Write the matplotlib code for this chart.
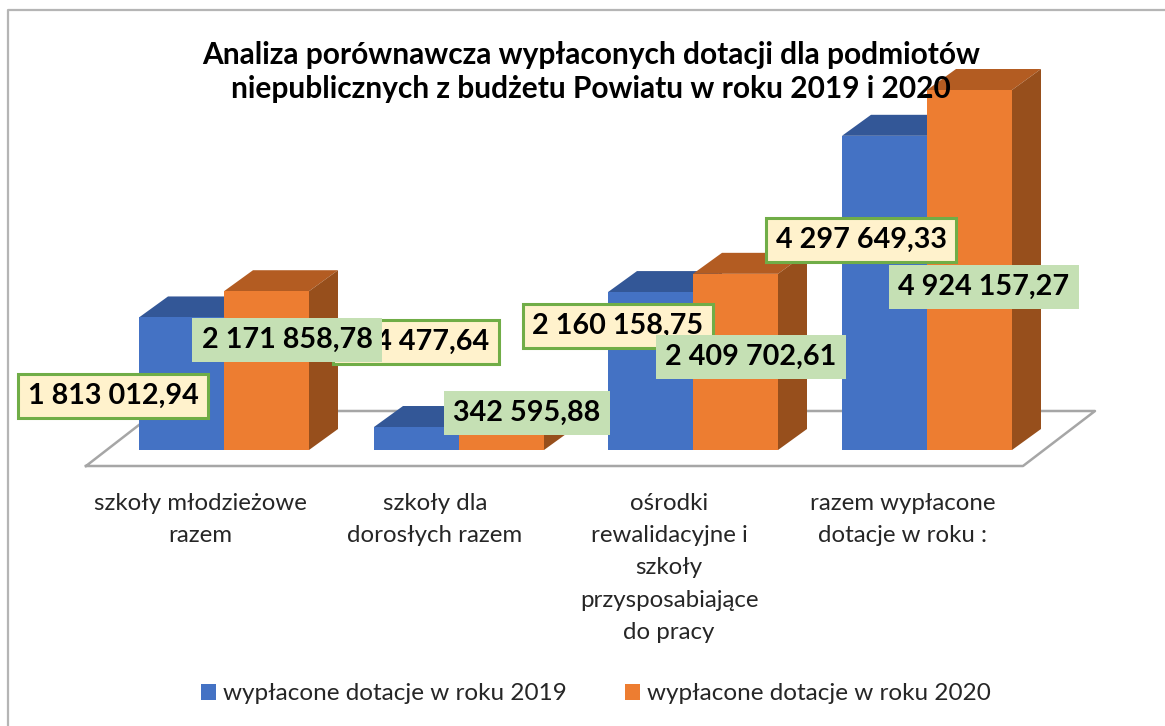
import matplotlib
matplotlib.use('Agg')
import matplotlib.pyplot as plt
from matplotlib.lines import Line2D
from matplotlib.patches import Polygon

plt.rcParams['font.family'] = ['Lato', 'DejaVu Sans']

# ---- Data ----
categories = ['szkoły młodzieżowe\nrazem',
              'szkoły dla\ndorosłych razem',
              'ośrodki\nrewalidacyjne i\nszkoły\nprzysposabiające\ndo pracy',
              'razem wypłacone\ndotacje w roku :']
values_2019 = [1813012.94, 314477.64, 2160158.75, 4297649.33]
values_2020 = [2171858.78, 342595.88, 2409702.61, 4924157.27]
labels_2019 = ['1 813 012,94', '314 477,64', '2 160 158,75', '4 297 649,33']
labels_2020 = ['2 171 858,78', '342 595,88', '2 409 702,61', '4 924 157,27']
series_names = ['wypłacone dotacje w roku 2019', 'wypłacone dotacje w roku 2020']
title = 'Analiza porównawcza wypłaconych dotacji dla podmiotów\nniepublicznych z budżetu Powiatu w roku 2019 i 2020'

# ---- Layout, in pixels of the picture ----
W, H = 1165, 726
base_y = 450
px_per_unit = 360 / 4924157.27
group_x = [224, 459, 693, 927]
bar_w = 85
depth_x, depth_y = 29, 21
label_xy_2019 = [(113, 396), (416, 342), (618, 326), (861, 240)]
label_xy_2020 = [(287, 340), (527, 413), (751, 357), (984, 287)]

blue, blue_top, blue_side = '#4472c4', '#335797', '#2c4c84'
orange, orange_top, orange_side = '#ed7d31', '#b35c22', '#974f1c'


def fx(x):
    return x / W


def fy(y):
    return 1 - y / H


fig = plt.figure(figsize=(W / 100, H / 100), dpi=100)
ax = fig.add_axes([0, fy(base_y), 1, base_y / H])
ax.set_xlim(0, W)
ax.set_ylim(0, base_y / px_per_unit)
ax.patch.set_alpha(0)
for s in ax.spines.values():
    s.set_visible(False)
ax.set_yticks([])

dy = depth_y / px_per_unit

# floor of the 3d chart
floor_x = [86, 1023, 1095, 157, 86]
floor_y = [-16 / px_per_unit, -16 / px_per_unit, 39 / px_per_unit, 39 / px_per_unit, -16 / px_per_unit]
ax.plot(floor_x, floor_y, color='#a6a6a6', lw=1.8, clip_on=False, zorder=1)


def draw_3d(x_left, value, top, side, z):
    # top and side faces sit behind the front bar
    top_pts = [(x_left, value), (x_left + bar_w, value),
               (x_left + bar_w + depth_x, value + dy), (x_left + depth_x, value + dy)]
    side_pts = [(x_left + bar_w, 0), (x_left + bar_w + depth_x, dy),
                (x_left + bar_w + depth_x, value + dy), (x_left + bar_w, value)]
    ax.add_patch(Polygon(top_pts, closed=True, fc=top, ec='none', zorder=z, clip_on=False))
    ax.add_patch(Polygon(side_pts, closed=True, fc=side, ec='none', zorder=z, clip_on=False))


handles = []
for i in range(len(categories)):
    draw_3d(group_x[i] - bar_w, values_2019[i], blue_top, blue_side, 2)
    b1 = ax.bar(group_x[i] - bar_w, values_2019[i], bar_w, align='edge', color=blue, zorder=2)
    draw_3d(group_x[i], values_2020[i], orange_top, orange_side, 3)
    b2 = ax.bar(group_x[i], values_2020[i], bar_w, align='edge', color=orange, zorder=3)
    handles = [b1, b2]

# category labels sit a little left of the group, as in 3d perspective
ax.set_xticks([x - 24 for x in group_x])
ax.set_xticklabels(categories, fontsize=17.3, linespacing=1.66, color='#262626')
ax.tick_params(axis='x', length=0, pad=31)

# ---- Title ----
fig.text(fx(591), fy(72), title, ha='center', va='center', fontsize=21.5, fontweight='bold',
         color='black', linespacing=1.27, zorder=5)

# ---- Value labels ----
for i in range(len(categories)):
    x, y = label_xy_2019[i]
    fig.text(fx(x), fy(y), labels_2019[i], ha='center', va='center', fontsize=20.7, fontweight='bold',
             color='black', zorder=6,
             bbox=dict(boxstyle='square,pad=0.32', fc='#fff2cc', ec='#70ad47', lw=2.2))
for i in range(len(categories)):
    x, y = label_xy_2020[i]
    fig.text(fx(x), fy(y), labels_2020[i], ha='center', va='center', fontsize=20.7, fontweight='bold',
             color='black', zorder=7,
             bbox=dict(boxstyle='square,pad=0.32', fc='#c5e0b4', ec='none'))

# ---- Legend ----
fig.legend(handles, series_names, loc='center', bbox_to_anchor=(fx(596), fy(694)), ncol=2,
           frameon=False, fontsize=17.5, handlelength=0.62, handleheight=0.62,
           handletextpad=0.3, columnspacing=2.4, labelcolor='#262626')

# ---- Frame of the pasted chart ----
fig.add_artist(Line2D([fx(8), fx(8), fx(W)], [0, fy(10), fy(10)], color='#b5b5b5', lw=1.6))

fig.savefig('out.png', dpi=100)
